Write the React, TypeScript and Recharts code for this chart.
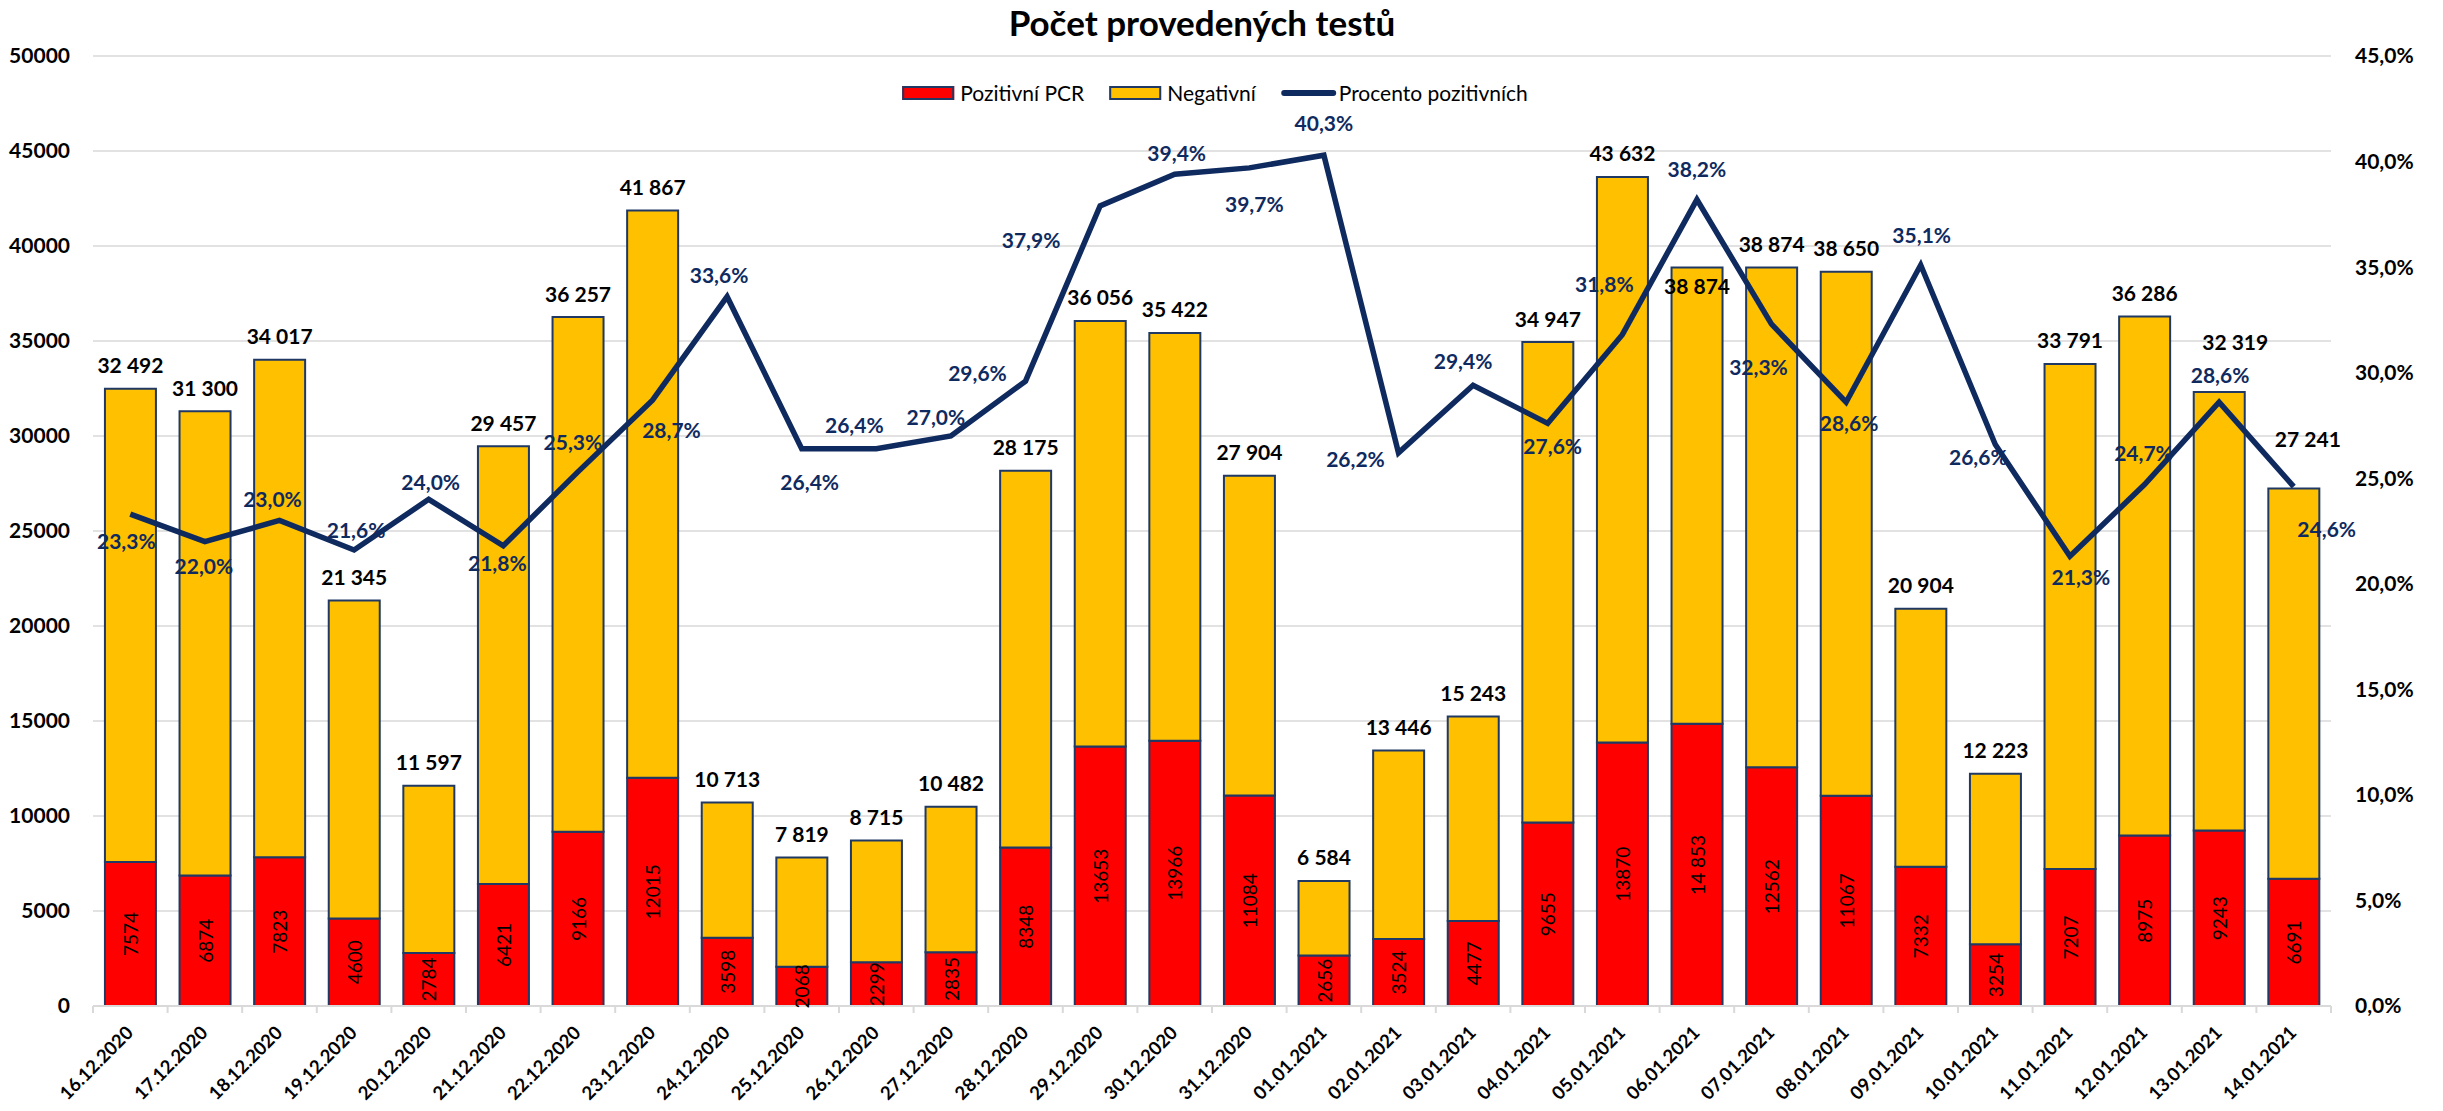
import React from 'react';
import { ComposedChart, Bar, Line, XAxis, YAxis, CartesianGrid, LabelList } from 'recharts';

const dates = [
  '16.12.2020', '17.12.2020', '18.12.2020', '19.12.2020', '20.12.2020', '21.12.2020', '22.12.2020',
  '23.12.2020', '24.12.2020', '25.12.2020', '26.12.2020', '27.12.2020', '28.12.2020', '29.12.2020',
  '30.12.2020', '31.12.2020', '01.01.2021', '02.01.2021', '03.01.2021', '04.01.2021', '05.01.2021',
  '06.01.2021', '07.01.2021', '08.01.2021', '09.01.2021', '10.01.2021', '11.01.2021', '12.01.2021',
  '13.01.2021', '14.01.2021',
];

const positive = [
  7574, 6874, 7823, 4600, 2784, 6421, 9166, 12015, 3598, 2068, 2299, 2835, 8348, 13653, 13966,
  11084, 2656, 3524, 4477, 9655, 13870, 14853, 12562, 11067, 7332, 3254, 7207, 8975, 9243, 6691,
];

const totals = [
  32492, 31300, 34017, 21345, 11597, 29457, 36257, 41867, 10713, 7819, 8715, 10482, 28175, 36056,
  35422, 27904, 6584, 13446, 15243, 34947, 43632, 38874, 38874, 38650, 20904, 12223, 33791, 36286,
  32319, 27241,
];

const percent = [
  23.3, 22.0, 23.0, 21.6, 24.0, 21.8, 25.3, 28.7, 33.6, 26.4, 26.4, 27.0, 29.6, 37.9, 39.4, 39.7,
  40.3, 26.2, 29.4, 27.6, 31.8, 38.2, 32.3, 28.6, 35.1, 26.6, 21.3, 24.7, 28.6, 24.6,
];

const leftTicks = [0, 5000, 10000, 15000, 20000, 25000, 30000, 35000, 40000, 45000, 50000];
const rightTicks = [0, 5, 10, 15, 20, 25, 30, 35, 40, 45];

const data = dates.map((d, i) => ({
  date: d,
  pos: positive[i],
  neg: totals[i] - positive[i],
  total: totals[i],
  pct: percent[i],
}));

// ---- layout / style (not data) ----
const W = 2427;
const H = 1103;
const PLOT_LEFT = 85;
const PLOT_RIGHT = 2323;
const PLOT_TOP = 48;
const PLOT_BOTTOM = 998;
const BAND = (PLOT_RIGHT - PLOT_LEFT) / dates.length;
const RED = '#FF0000';
const YELLOW = '#FFC000';
const NAVY = '#0F2A5F';
const BAR_STROKE = '#1F3864';
const GRID = '#D9D9D9';

// label offsets (dx, dy) relative to each line point, as placed in the original
const pctLabelOffsets: [number, number][] = [
  [-4, 26], [-1, 24], [-7, -22], [2, -21], [2, -18], [-6, 17], [-5, -30], [19, 29], [-8, -22],
  [8, 33], [-22, -24], [-15, -20], [-48, -9], [-69, 34], [2, -22], [5, 36], [0, -33], [-43, 6],
  [-10, -25], [5, 22], [-18, -51], [0, -31], [-13, 42], [3, 20], [1, -31], [-17, 12], [11, 20],
  [-1, -32], [1, -28], [33, 42],
];
// total labels that were moved from the default spot above the bar
const totalLabelOffsets: Record<number, [number, number]> = {
  21: [0, 18],
  28: [16, -50],
  29: [14, -50],
};
const spacedPositive = new Set([21]);

const fmtThousands = (v: number) => String(v).replace(/\B(?=(\d{3})+(?!\d))/g, ' ');
const fmtPct = (v: number) => v.toFixed(1).replace('.', ',') + '%';

const XTick = (props: any) => {
  const { x, y, payload, index } = props;
  const left = x - BAND / 2;
  const right = x + BAND / 2;
  return (
    <g>
      <line x1={left} x2={left} y1={y} y2={y + 7} stroke={GRID} strokeWidth={2} />
      {index === dates.length - 1 && (
        <line x1={right} x2={right} y1={y} y2={y + 7} stroke={GRID} strokeWidth={2} />
      )}
      <text
        transform={`translate(${x + 4},${y + 28}) rotate(-45)`}
        textAnchor="end"
        fontSize={18.5}
        fontWeight={700}
        fill="#000"
      >
        {payload.value}
      </text>
    </g>
  );
};

const PosLabel = (props: any) => {
  const { x, y, width, height, value, index } = props;
  const cx = x + width / 2;
  const cy = y + height / 2;
  const txt = spacedPositive.has(index) ? fmtThousands(value) : String(value);
  return (
    <text
      transform={`translate(${cx},${cy}) rotate(-90)`}
      textAnchor="middle"
      dominantBaseline="central"
      fontSize={19}
      fill="#000"
    >
      {txt}
    </text>
  );
};

const TotalLabel = (props: any) => {
  const { x, y, width, value, index } = props;
  const [dx, dy] = totalLabelOffsets[index] || [0, -24];
  return (
    <text x={x + width / 2 + dx} y={y + dy} textAnchor="middle" dominantBaseline="central" fontSize={21} fontWeight={700} fill="#000">
      {fmtThousands(value)}
    </text>
  );
};

const PctLabel = (props: any) => {
  const { x, y, value, index } = props;
  const [dx, dy] = pctLabelOffsets[index] || [0, -25];
  return (
    <text x={x + dx} y={y + dy} textAnchor="middle" dominantBaseline="central" fontSize={21} fontWeight={700} fill={NAVY}>
      {fmtPct(value)}
    </text>
  );
};

export default function App() {
  return (
    <div
      style={{
        position: 'relative',
        width: W,
        height: H,
        marginBottom: -8,
        fontFamily: 'Lato, "Open Sans", sans-serif',
        background: '#fff',
      }}
    >
      <div
        style={{
          position: 'absolute',
          left: 1194,
          top: -3,
          transform: 'translateX(-50%)',
          fontSize: 35,
          lineHeight: '35px',
          fontWeight: 700,
          whiteSpace: 'nowrap',
          color: '#000',
        }}
      >
        Počet provedených testů
      </div>
      <div
        style={{
          position: 'absolute',
          left: 1207,
          top: 73,
          transform: 'translateX(-50%)',
          display: 'flex',
          alignItems: 'center',
          whiteSpace: 'nowrap',
          fontSize: 21,
          lineHeight: '24px',
          color: '#000',
          zIndex: 2,
        }}
      >
        <div style={{ width: 52, height: 14, background: RED, border: `2px solid ${BAR_STROKE}`, boxSizing: 'border-box', marginRight: 6 }} />
        <span style={{ marginRight: 25 }}>Pozitivní PCR</span>
        <div style={{ width: 52, height: 14, background: YELLOW, border: `2px solid ${BAR_STROKE}`, boxSizing: 'border-box', marginRight: 6 }} />
        <span style={{ marginRight: 25 }}>Negativní</span>
        <div style={{ width: 55, height: 6, background: NAVY, borderRadius: 3, marginRight: 3 }} />
        <span>Procento pozitivních</span>
      </div>
      <ComposedChart
        width={W}
        height={H}
        data={data}
        margin={{ top: PLOT_TOP, right: 0, bottom: 0, left: 0 }}
        barCategoryGap="16%"
      >
        <CartesianGrid yAxisId="left" vertical={false} stroke={GRID} strokeWidth={1.5} />
        <XAxis
          dataKey="date"
          height={H - PLOT_BOTTOM}
          interval={0}
          tickSize={0}
          tickMargin={0}
          tickLine={false}
          axisLine={{ stroke: GRID, strokeWidth: 2 }}
          tick={<XTick />}
        />
        <YAxis
          yAxisId="left"
          orientation="left"
          width={PLOT_LEFT}
          domain={[0, 50000]}
          ticks={leftTicks}
          interval={0}
          tickSize={0}
          tickMargin={23}
          tickLine={false}
          axisLine={false}
          tick={{ fontSize: 21, fontWeight: 700, fill: '#000' }}
        />
        <YAxis
          yAxisId="right"
          orientation="right"
          width={W - PLOT_RIGHT}
          domain={[0, 45]}
          ticks={rightTicks}
          interval={0}
          tickSize={0}
          tickMargin={24}
          tickLine={false}
          axisLine={false}
          tickFormatter={(v: number) => fmtPct(v)}
          tick={{ fontSize: 21, fontWeight: 700, fill: '#000', textAnchor: 'start' }}
        />
        <Bar yAxisId="left" dataKey="pos" stackId="a" fill={RED} stroke={BAR_STROKE} strokeWidth={2} isAnimationActive={false}>
          <LabelList dataKey="pos" content={<PosLabel />} />
        </Bar>
        <Bar yAxisId="left" dataKey="neg" stackId="a" fill={YELLOW} stroke={BAR_STROKE} strokeWidth={2} isAnimationActive={false}>
          <LabelList dataKey="total" content={<TotalLabel />} />
        </Bar>
        <Line
          yAxisId="right"
          type="linear"
          dataKey="pct"
          stroke={NAVY}
          strokeWidth={5.5}
          dot={false}
          activeDot={false}
          isAnimationActive={false}
        >
          <LabelList dataKey="pct" content={<PctLabel />} />
        </Line>
      </ComposedChart>
    </div>
  );
}
